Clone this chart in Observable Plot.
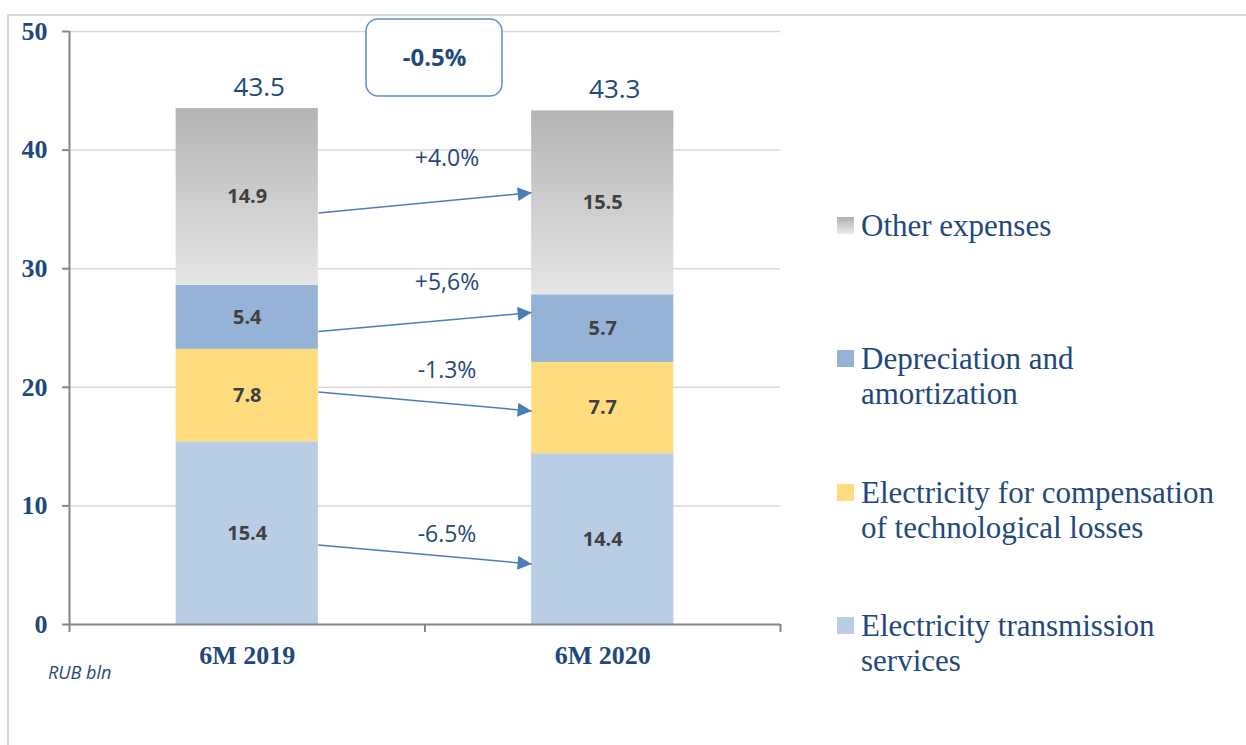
<!DOCTYPE html>
<html><head><meta charset="utf-8">
<script src="https://cdn.jsdelivr.net/npm/d3@7"></script>
<script src="https://cdn.jsdelivr.net/npm/@observablehq/plot@0.6"></script>
<style>
html,body{margin:0;padding:0;background:#fff;}
#wrap{position:relative;width:1246px;height:745px;overflow:hidden;background:#fff;}
#frame{position:absolute;left:7px;top:14px;width:1260px;height:780px;border-top:2px solid #dadada;border-left:2px solid #dadada;}
#chart{position:absolute;left:0;top:0;}
#unit{position:absolute;left:48px;top:660px;font:italic 18px "Open Sans";color:#1f497d;white-space:nowrap;}
.leg{position:absolute;left:837px;width:400px;font:31px/35px "Liberation Serif";color:#1f497d;}
.leg .sw{position:absolute;left:0;top:9px;width:17px;height:17px;}
.leg .tx{margin-left:24px;width:372px;}
</style></head>
<body>
<div id="wrap">
  <div id="frame"></div>
  <div id="chart"></div>
  <div id="unit"></div>
  <div id="legend"></div>
</div>
<script>
// ---- data ----
const periods = ["6M 2019", "6M 2020"];
const seriesNames = ["Electricity transmission services", "Electricity for compensation of technological losses", "Depreciation and amortization", "Other expenses"];
const transmission = [15.4, 14.4];
const losses = [7.8, 7.7];
const depreciation = [5.4, 5.7];
const otherExpenses = [14.9, 15.5];
const totals = [43.5, 43.3];
const changes = ["-6.5%", "-1.3%", "+5,6%", "+4.0%"];
const totalChange = ["-0.5%"];
const arrowFrom = [6.7, 19.6, 24.7, 34.7];
const arrowTo = [5.1, 18.0, 26.3, 36.4];
const changeLabelY = [7.6, 21.4, 28.8, 39.3];
const yTicks = [0, 10, 20, 30, 40, 50];
const unitLabel = "RUB bln";

// ---- styles ----
const seriesValues = [transmission, losses, depreciation, otherExpenses];
const fills = ["#b9cde5", "#ffdd7f", "#95b3d7", "url(#gradOther)"];
const legendFills = ["#b9cde5", "#ffdd7f", "#95b3d7", "linear-gradient(#b0b0b0,#ececec)"];
const navy = "#1f497d";
const axisGray = "#868686";
const half = 0.2;

const segs = [];
periods.forEach((p, i) => {
  let base = 0;
  seriesValues.forEach((vals, s) => {
    segs.push({i, s, v: vals[i], y1: base, y2: base + vals[i]});
    base += vals[i];
  });
});

const chart = Plot.plot({
  width: 800,
  height: 745,
  marginLeft: 69,
  marginRight: 20,
  marginTop: 31,
  marginBottom: 121,
  style: {fontFamily: "Open Sans", background: "transparent", overflow: "visible"},
  x: {type: "linear", domain: [0, periods.length], axis: null},
  y: {domain: [0, 50], axis: null},
  marks: [
    Plot.ruleY(yTicks.filter(d => d > 0), {stroke: "#d9d9d9", strokeWidth: 1.5}),
    ...fills.map((f, s) => Plot.rect(segs.filter(d => d.s === s), {
      x1: d => d.i + 0.5 - half, x2: d => d.i + 0.5 + half, y1: "y1", y2: "y2", fill: f
    })),
    Plot.ruleX([0], {stroke: axisGray, strokeWidth: 2}),
    Plot.ruleY([0], {stroke: axisGray, strokeWidth: 2}),
    Plot.axisY({ticks: yTicks, tickSize: 7, tickPadding: 15, stroke: axisGray, strokeWidth: 2,
      fill: navy, fontSize: 26, fontWeight: "bold", fontFamily: "Liberation Serif", label: null, tickFormat: d => d}),
    Plot.axisX({ticks: d3.range(periods.length + 1), tickSize: 8, stroke: axisGray, strokeWidth: 2,
      tickFormat: () => "", label: null}),
    Plot.axisX({ticks: periods.map((_, i) => i + 0.5), tickSize: 0, tickPadding: 21,
      tickFormat: d => periods[Math.floor(d)], fill: navy, fontSize: 26, fontWeight: "bold",
      fontFamily: "Liberation Serif", label: null}),
    Plot.text(segs, {x: d => d.i + 0.5, y: d => (d.y1 + d.y2) / 2, text: d => d.v.toFixed(1),
      fill: "#404040", fontWeight: "bold", fontSize: 20, fontFamily: "Open Sans"}),
    Plot.text(totals, {x: (d, i) => i + 0.5, y: d => d, dx: 12, dy: -21, text: d => d.toFixed(1),
      fill: navy, fontSize: 26, fontFamily: "Open Sans"}),
    Plot.link(changes, {x1: () => 0.5 + half, x2: () => 1.5 - half,
      y1: (d, i) => arrowFrom[i], y2: (d, i) => arrowTo[i], stroke: "#4a7ebb", strokeWidth: 1.5}),
    Plot.text(changes, {x: () => 1, y: (d, i) => changeLabelY[i], dx: 22, text: d => d,
      fill: navy, fontSize: 23, fontFamily: "Open Sans"}),
    Plot.rect(totalChange, {x1: () => 1, x2: () => 1, y1: () => 50, y2: () => 50,
      insetLeft: -58.5, insetRight: -77.5, insetTop: -12, insetBottom: -65, rx: 12,
      fill: "white", stroke: "#5b8fd1", strokeWidth: 1.5}),
    Plot.text(totalChange, {x: () => 1, y: () => 50, dx: 9.5, dy: 27, text: d => d,
      fill: navy, fontSize: 24, fontWeight: "bold", fontFamily: "Open Sans"})
  ]
});

document.getElementById("chart").appendChild(chart);

// gradient & arrowhead definitions
const svg = d3.select(chart);
const defs = svg.insert("defs", ":first-child");
const g = defs.append("linearGradient").attr("id", "gradOther")
  .attr("x1", 0).attr("y1", 0).attr("x2", 0).attr("y2", 1);
g.append("stop").attr("offset", "0%").attr("stop-color", "#b4b4b4");
g.append("stop").attr("offset", "100%").attr("stop-color", "#e6e6e6");
const m = defs.append("marker").attr("id", "ah").attr("viewBox", "0 0 10 10")
  .attr("refX", 10).attr("refY", 5).attr("markerWidth", 16).attr("markerHeight", 14)
  .attr("markerUnits", "userSpaceOnUse").attr("orient", "auto");
m.append("path").attr("d", "M0,0L10,5L0,10z").attr("fill", "#4a7ebb");
svg.selectAll('g[aria-label="link"] path').attr("marker-end", "url(#ah)");

document.getElementById("unit").textContent = unitLabel;

// legend (reverse order, top to bottom)
const legendTops = [607.5, 474.5, 340.5, 207.5];
const legend = document.getElementById("legend");
seriesNames.forEach((name, s) => {
  const item = document.createElement("div");
  item.className = "leg";
  item.style.top = legendTops[s] + "px";
  const sw = document.createElement("div");
  sw.className = "sw";
  sw.style.background = legendFills[s];
  const tx = document.createElement("div");
  tx.className = "tx";
  tx.textContent = name;
  item.appendChild(sw);
  item.appendChild(tx);
  legend.appendChild(item);
});
</script>
</body></html>
